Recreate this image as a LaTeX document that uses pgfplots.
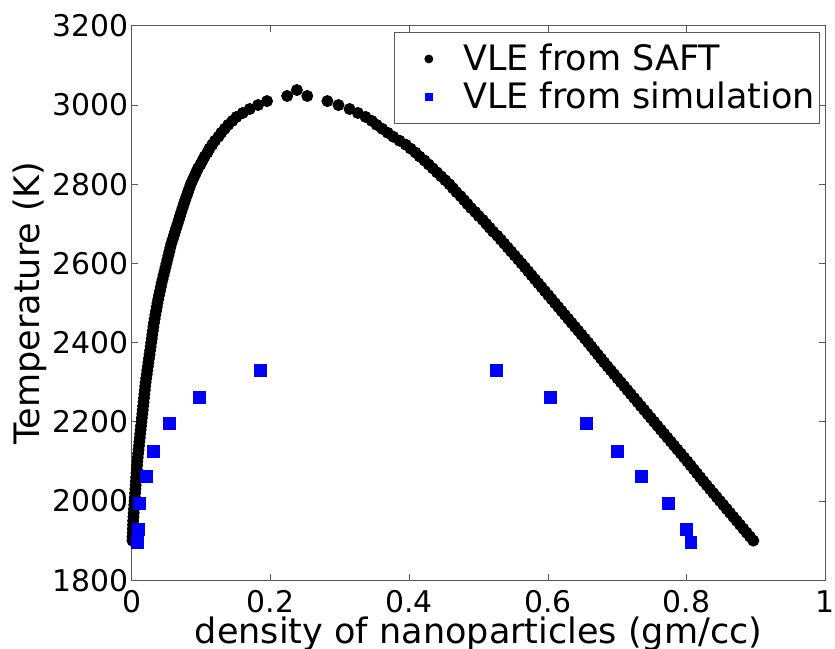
\documentclass[border=0pt]{standalone}
\usepackage{fontspec}
\setmainfont{DejaVu Sans}
\usepackage{pgfplots}
\pgfplotsset{compat=1.18}
\pgfplotsset{
  legdot/.style={legend image code/.code={\path (0pt,0pt) (32pt,0pt); \draw[##1, mark size=2pt] plot coordinates {(17pt,0pt)};}},
  legsq/.style={legend image code/.code={\path (0pt,0pt) (32pt,0pt); \draw[##1, mark size=1.8pt] plot coordinates {(17pt,0pt)};}},
}

% SAFT coexistence curve: density (gm/cc), temperature (K)
\pgfplotstableread{
x T
0.0010 1900
0.0012 1910
0.0014 1920
0.0016 1930
0.0018 1940
0.0020 1950
0.0024 1960
0.0028 1970
0.0032 1980
0.0036 1990
0.0040 2000
0.0044 2010
0.0048 2020
0.0052 2030
0.0056 2040
0.0060 2050
0.0064 2060
0.0068 2070
0.0072 2080
0.0076 2090
0.0080 2100
0.0086 2110
0.0092 2120
0.0098 2130
0.0104 2140
0.0110 2150
0.0116 2160
0.0122 2170
0.0128 2180
0.0134 2190
0.0140 2200
0.0146 2210
0.0152 2220
0.0158 2230
0.0164 2240
0.0170 2250
0.0176 2260
0.0182 2270
0.0188 2280
0.0194 2290
0.0200 2300
0.0208 2310
0.0216 2320
0.0224 2330
0.0232 2340
0.0240 2350
0.0248 2360
0.0256 2370
0.0264 2380
0.0272 2390
0.0280 2400
0.0288 2410
0.0296 2420
0.0304 2430
0.0312 2440
0.0320 2450
0.0330 2460
0.0340 2470
0.0350 2480
0.0360 2490
0.0370 2500
0.0382 2510
0.0394 2520
0.0406 2530
0.0418 2540
0.0430 2550
0.0444 2560
0.0458 2570
0.0472 2580
0.0486 2590
0.0500 2600
0.0514 2610
0.0528 2620
0.0542 2630
0.0556 2640
0.0570 2650
0.0588 2660
0.0606 2670
0.0624 2680
0.0642 2690
0.0660 2700
0.0678 2710
0.0696 2720
0.0714 2730
0.0732 2740
0.0750 2750
0.0770 2760
0.0790 2770
0.0810 2780
0.0830 2790
0.0850 2800
0.0876 2810
0.0902 2820
0.0928 2830
0.0954 2840
0.0990 2850
0.1020 2860
0.1050 2870
0.1090 2880
0.1120 2890
0.1160 2900
0.1200 2910
0.1250 2920
0.1290 2930
0.1340 2940
0.1390 2950
0.1450 2960
0.1510 2970
0.1600 2980
0.1700 2990
0.1820 3000
0.1950 3010
0.2240 3023
0.2380 3038
0.2530 3023
0.2820 3010
0.2980 3000
0.3140 2990
0.3260 2980
0.3370 2970
0.3460 2960
0.3530 2950
0.3610 2940
0.3690 2930
0.3770 2920
0.3860 2910
0.3950 2900
0.4020 2890
0.4090 2880
0.4150 2870
0.4220 2860
0.4280 2850
0.4340 2840
0.4400 2830
0.4460 2820
0.4520 2810
0.4580 2800
0.4630 2790
0.4680 2780
0.4740 2770
0.4790 2760
0.4840 2750
0.4890 2740
0.4950 2730
0.5000 2720
0.5060 2710
0.5110 2700
0.5160 2690
0.5210 2680
0.5270 2670
0.5320 2660
0.5370 2650
0.5420 2640
0.5470 2630
0.5520 2620
0.5570 2610
0.5620 2600
0.5668 2590
0.5716 2580
0.5764 2570
0.5812 2560
0.5860 2550
0.5908 2540
0.5956 2530
0.6004 2520
0.6052 2510
0.6100 2500
0.6148 2490
0.6196 2480
0.6244 2470
0.6292 2460
0.6340 2450
0.6388 2440
0.6436 2430
0.6484 2420
0.6532 2410
0.6580 2400
0.6626 2390
0.6672 2380
0.6718 2370
0.6764 2360
0.6810 2350
0.6858 2340
0.6906 2330
0.6954 2320
0.7002 2310
0.7050 2300
0.7098 2290
0.7146 2280
0.7194 2270
0.7242 2260
0.7290 2250
0.7338 2240
0.7386 2230
0.7434 2220
0.7482 2210
0.7530 2200
0.7578 2190
0.7626 2180
0.7674 2170
0.7722 2160
0.7770 2150
0.7818 2140
0.7866 2130
0.7914 2120
0.7962 2110
0.8010 2100
0.8056 2090
0.8102 2080
0.8148 2070
0.8194 2060
0.8240 2050
0.8288 2040
0.8336 2030
0.8384 2020
0.8432 2010
0.8480 2000
0.8528 1990
0.8576 1980
0.8624 1970
0.8672 1960
0.8720 1950
0.8768 1940
0.8816 1930
0.8864 1920
0.8912 1910
0.8960 1900
}\saft

% simulation points
\pgfplotstableread{
x T
0.0085 1895
0.0095 1929
0.0110 1994
0.0210 2063
0.0310 2126
0.0540 2196
0.0980 2261
0.1850 2329
0.5250 2329
0.6030 2261
0.6550 2196
0.7000 2126
0.7340 2063
0.7740 1994
0.7990 1929
0.8060 1895
}\sim

\begin{document}
\begin{tikzpicture}
\useasboundingbox (-66.2pt,-34.5pt) rectangle (353.3pt,291.5pt);
\begin{axis}[
  scale only axis,
  width=348.5pt, height=278.5pt,
  xmin=0, xmax=1, ymin=1800, ymax=3200,
  xtick={0,0.2,...,1}, ytick={1800,2000,...,3200},
  tick align=inside,
  major tick length=3pt,
  axis line style={black!65},
  every tick/.style={black!65},
  /pgf/number format/assume math mode=true,
  xticklabel style={font=\fontsize{15}{18}\selectfont, yshift=-1.5pt},
  yticklabel style={font=\fontsize{15}{18}\selectfont, inner sep=1.5pt},
  xticklabel={\pgfmathprintnumber[fixed,precision=1]{\tick}},
  yticklabel={\pgfmathprintnumber[fixed,1000 sep={}]{\tick}},
  xlabel={density of nanoparticles (gm/cc)},
  ylabel={Temperature (K)},
  label style={font=\fontsize{17.6}{20}\selectfont},
  xlabel style={yshift=5pt},
  ylabel style={yshift=-2pt},
  legend style={at={(1,1)}, anchor=north east, xshift=-3pt, yshift=-3pt,
    draw=black!65, font=\fontsize{17.6}{20}\selectfont,
    inner xsep=0pt, inner ysep=4pt, row sep=0pt},
  legend cell align=left,
]
\addplot[only marks, mark=*, mark size=2.8pt, black, legdot]
  table[x=x, y=T] {\saft};
\addlegendentry{VLE from SAFT}
\addplot[only marks, mark=square*, mark size=3pt, draw=blue, fill=blue, legsq]
  table[x=x, y=T] {\sim};
\addlegendentry{VLE from simulation}
\end{axis}
\end{tikzpicture}
\end{document}
